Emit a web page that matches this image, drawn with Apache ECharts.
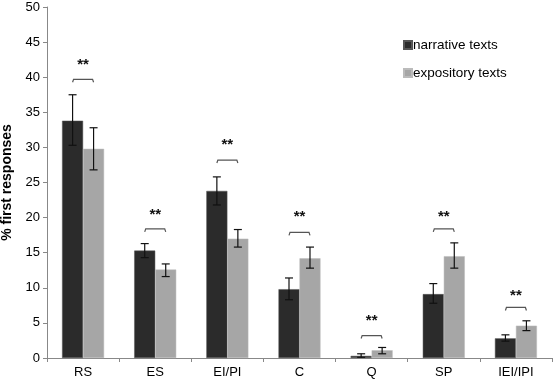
<!DOCTYPE html>
<html>
<head>
<meta charset="utf-8">
<script src="https://cdn.jsdelivr.net/npm/echarts@6/dist/echarts.min.js"></script>
<style>
  html, body { margin: 0; padding: 0; background: #fff; }
  #chart { width: 553px; height: 379px; }
</style>
</head>
<body>
<div id="chart"></div>
<script>
const categories = ['RS', 'ES', 'EI/PI', 'C', 'Q', 'SP', 'IEI/IPI'];
const narrative = [33.8, 15.3, 23.8, 9.8, 0.3, 9.1, 2.8];
const narrativeLow = [30.3, 14.3, 21.8, 8.3, 0.1, 7.8, 2.4];
const narrativeHigh = [37.5, 16.3, 25.8, 11.4, 0.6, 10.6, 3.3];
const expository = [29.8, 12.6, 17.0, 14.2, 1.1, 14.5, 4.6];
const expositoryLow = [26.8, 11.6, 15.8, 12.8, 0.6, 12.8, 3.9];
const expositoryHigh = [32.8, 13.4, 18.3, 15.8, 1.5, 16.4, 5.3];
const bracketY = [39.7, 18.4, 28.2, 17.9, 3.2, 18.4, 7.2];
const starY = [41.8, 20.4, 30.3, 20.1, 5.3, 20.1, 8.8];

const BAR_W = 21;
const FONT = '"Liberation Sans", Arial, sans-serif';

const errorItem = offset => (params, api) => {
  const x = api.coord([api.value(0), 0])[0] + offset;
  const lo = api.coord([api.value(0), api.value(1)])[1];
  const hi = api.coord([api.value(0), api.value(2)])[1];
  const style = { stroke: '#111', lineWidth: 1.2 };
  return {
    type: 'group',
    children: [
      { type: 'line', shape: { x1: x, y1: lo, x2: x, y2: hi }, style },
      { type: 'line', shape: { x1: x - 4, y1: lo, x2: x + 4, y2: lo }, style },
      { type: 'line', shape: { x1: x - 4, y1: hi, x2: x + 4, y2: hi }, style },
    ],
  };
};

const bracketItem = (params, api) => {
  const cx = api.coord([api.value(0), 0])[0];
  const y = api.coord([api.value(0), api.value(1)])[1];
  const ys = api.coord([api.value(0), api.value(2)])[1];
  const x1 = cx - BAR_W / 2;
  const x2 = cx + BAR_W / 2;
  return {
    type: 'group',
    children: [
      {
        type: 'polyline',
        shape: { points: [[x1, y + 3], [x1 + 1, y], [x2 - 1, y], [x2, y + 3]] },
        style: { stroke: '#555', lineWidth: 1.2, fill: null },
      },
      {
        type: 'text',
        style: {
          x: cx, y: ys, text: '**', align: 'center', verticalAlign: 'middle',
          font: 'bold 15px ' + FONT, fill: '#111',
        },
      },
    ],
  };
};

const myChart = echarts.init(document.getElementById('chart'));

const option = {
  animation: false,
  color: ['#2b2b2b', '#a6a6a6'],
  textStyle: { fontFamily: FONT },
  grid: { left: 47, right: 1, top: 7, bottom: 21, outerBoundsMode: 'none', containLabel: false },
  legend: {
    orient: 'vertical',
    left: 398,
    top: 33,
    itemWidth: 8,
    itemHeight: 8,
    itemGap: 14,
    icon: 'rect',
    data: ['narrative texts', 'expository texts'],
    textStyle: { fontSize: 13.5, color: '#000', fontFamily: FONT, padding: [0, 0, 0, -4] },
  },
  xAxis: {
    type: 'category',
    data: categories,
    axisLine: { lineStyle: { color: '#888' } },
    axisTick: { show: true, length: 4, lineStyle: { color: '#888' } },
    axisLabel: { color: '#000', fontSize: 13, margin: 8, fontFamily: FONT },
  },
  yAxis: {
    type: 'value',
    min: 0,
    max: 50,
    interval: 5,
    name: '% first responses',
    nameLocation: 'middle',
    nameGap: 31,
    nameTextStyle: { fontSize: 14, fontWeight: 'bold', color: '#000', fontFamily: FONT },
    axisLine: { show: true, lineStyle: { color: '#888' } },
    axisTick: { show: true, length: 4, lineStyle: { color: '#888' } },
    axisLabel: { color: '#000', fontSize: 13, margin: 7, fontFamily: FONT },
    splitLine: { show: false },
  },
  series: [
    {
      name: 'narrative texts',
      type: 'bar',
      barWidth: BAR_W,
      barGap: '0%',
      data: narrative,
      itemStyle: { borderColor: '#555', borderWidth: 0.5 },
    },
    {
      name: 'expository texts',
      type: 'bar',
      barWidth: BAR_W,
      barGap: '0%',
      data: expository,
      itemStyle: { borderColor: '#bbb', borderWidth: 0.5 },
    },
    {
      type: 'custom',
      renderItem: errorItem(-BAR_W / 2),
      data: categories.map((c, i) => [i, narrativeLow[i], narrativeHigh[i]]),
      z: 5,
    },
    {
      type: 'custom',
      renderItem: errorItem(BAR_W / 2),
      data: categories.map((c, i) => [i, expositoryLow[i], expositoryHigh[i]]),
      z: 5,
    },
    {
      type: 'custom',
      renderItem: bracketItem,
      data: categories.map((c, i) => [i, bracketY[i], starY[i]]),
      z: 5,
    },
  ],
};
myChart.setOption(option);
</script>
</body>
</html>
